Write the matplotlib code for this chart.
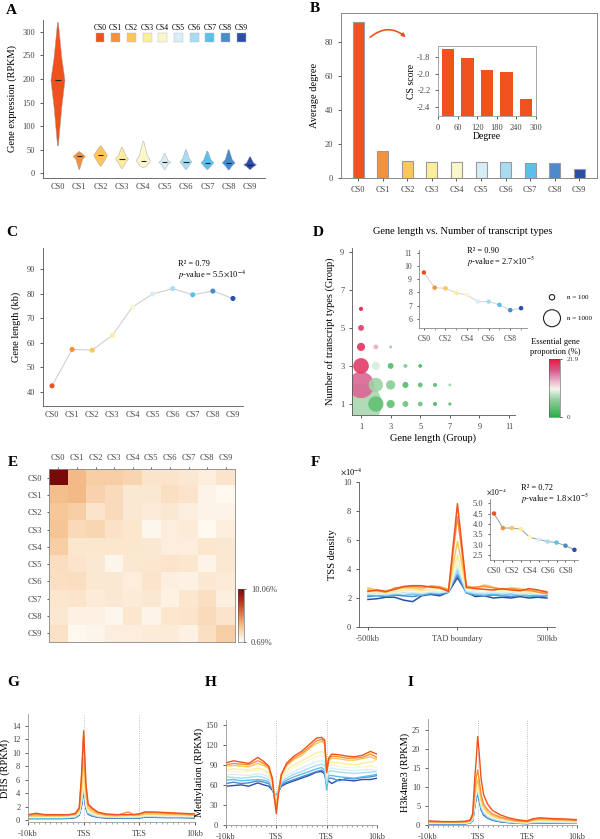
import matplotlib
matplotlib.use('Agg')
import matplotlib.pyplot as plt
from matplotlib.colors import LinearSegmentedColormap, Normalize
from matplotlib.patches import Rectangle, FancyArrowPatch
from matplotlib.cm import ScalarMappable
from matplotlib.ticker import MultipleLocator

W, H = 600, 839

plt.rcParams['font.family'] = ['Liberation Serif', 'DejaVu Serif']
plt.rcParams['mathtext.fontset'] = 'stix'
plt.rcParams['font.size'] = 6
plt.rcParams['axes.linewidth'] = 0.6
plt.rcParams['axes.edgecolor'] = '#555555'
plt.rcParams['xtick.major.size'] = 2
plt.rcParams['ytick.major.size'] = 2
plt.rcParams['xtick.major.width'] = 0.6
plt.rcParams['ytick.major.width'] = 0.6
plt.rcParams['xtick.labelsize'] = 6
plt.rcParams['ytick.labelsize'] = 6
plt.rcParams['xtick.color'] = '#444444'
plt.rcParams['ytick.color'] = '#444444'

stages = ['CS0', 'CS1', 'CS2', 'CS3', 'CS4', 'CS5', 'CS6', 'CS7', 'CS8', 'CS9']
stage_colors = ['#F0521E', '#F6913A', '#FCC65A', '#FCEE9F', '#FBF7CD',
                '#D7EEF8', '#A8DCF3', '#5BC0EC', '#4A8BCC', '#2B4FA8']

# A: violin outlines (RPKM)
a_low = [58, 8, 15, 10, 12, 8, 8, 8, 7, 8]
a_body_lo = [140, 29, 26, 22, 16, 19, 17, 15, 16, 14]
a_median = [197, 36, 38, 30, 27, 23, 24, 22, 22, 18]
a_body_hi = [245, 41, 48, 38, 38, 27, 31, 29, 29, 22]
a_high = [320, 46, 58, 55, 68, 42, 50, 47, 50, 35]
a_halfw = [0.33, 0.28, 0.32, 0.3, 0.33, 0.28, 0.28, 0.3, 0.3, 0.3]

# B: average degree + inset
b_degree = [92, 16, 9.8, 9.5, 9.2, 9.5, 9.5, 8.8, 9.0, 5.5]
b_inset_x = [30, 90, 150, 210, 270]
b_inset_cs = [-1.70, -1.81, -1.96, -1.98, -2.31]

# C: gene length
c_length = [42.5, 57.3, 57.0, 63.0, 74.5, 79.8, 82.0, 79.5, 81.0, 78.0]

# D: bubbles
d_x = [1, 1, 1, 1, 1, 1, 2, 2, 2, 2, 3, 3, 3, 3, 4, 4, 4, 5, 5, 5, 6, 6, 7, 7]
d_y = [1, 2, 3, 4, 5, 6, 1, 2, 3, 4, 1, 2, 3, 4, 1, 2, 3, 1, 2, 3, 1, 2, 1, 2]
d_n = [6000, 2400, 850, 230, 120, 60, 800, 700, 230, 80, 230, 300, 120, 30,
       120, 130, 55, 80, 80, 50, 55, 55, 35, 30]
d_p = [7.5, 17.0, 19.5, 20, 19.5, 21.5, 3.5, 7.0, 9.5, 14, 3.5, 6, 2.5, 6.5,
       4, 2.5, 5.5, 4, 3, 1.5, 1.5, 2.5, 2.5, 7]
d_inset = [9.5, 8.35, 8.3, 7.95, 7.8, 7.3, 7.3, 7.05, 6.65, 6.8]

# E: heatmap (%)
e_matrix = [
    [10.06, 3.8, 3.0, 3.0, 2.7, 2.0, 2.0, 1.8, 1.6, 2.0],
    [3.6, 3.8, 2.8, 2.4, 1.8, 1.8, 2.2, 2.0, 1.3, 1.0],
    [3.3, 3.0, 2.0, 2.4, 1.8, 1.7, 1.8, 1.5, 1.3, 1.3],
    [3.4, 2.5, 2.6, 2.1, 1.9, 1.1, 1.6, 1.7, 1.0, 1.6],
    [3.0, 1.9, 1.9, 1.9, 1.9, 1.8, 1.6, 1.6, 1.9, 1.8],
    [2.3, 2.0, 1.8, 1.2, 1.8, 1.9, 2.0, 1.9, 1.3, 1.8],
    [2.2, 2.3, 1.8, 1.8, 1.6, 2.0, 1.5, 1.4, 1.8, 1.7],
    [1.9, 2.0, 1.7, 1.8, 1.7, 1.8, 1.4, 1.9, 2.2, 1.5],
    [1.8, 1.4, 1.4, 1.1, 1.9, 1.3, 1.9, 2.0, 2.4, 2.0],
    [2.1, 1.0, 1.2, 1.6, 1.6, 1.7, 1.7, 1.4, 2.2, 3.0],
]

# F: TSS density around TAD boundary (x1e-4)
f_x = [-500, -450, -400, -350, -300, -250, -200, -150, -100, -50, 0,
       50, 100, 150, 200, 250, 300, 350, 400, 450, 500]
f_lines = [
    [2.45, 2.55, 2.45, 2.6, 2.8, 2.85, 2.85, 2.75, 2.7, 2.45, 8.5, 2.75, 2.65, 2.6, 2.55, 2.65, 2.55, 2.5, 2.65, 2.55, 2.4],
    [2.55, 2.5, 2.4, 2.7, 2.75, 2.8, 2.75, 2.8, 2.75, 2.55, 7.6, 2.7, 2.75, 2.8, 2.7, 2.6, 2.65, 2.55, 2.55, 2.4, 2.3],
    [2.7, 2.55, 2.5, 2.6, 2.7, 2.7, 2.6, 2.85, 2.8, 2.6, 5.9, 2.85, 2.7, 2.9, 2.75, 2.6, 2.7, 2.65, 2.5, 2.5, 2.45],
    [2.5, 2.45, 2.4, 2.45, 2.55, 2.6, 2.5, 2.6, 2.65, 2.55, 5.0, 2.7, 2.6, 2.6, 2.55, 2.5, 2.6, 2.5, 2.45, 2.4, 2.35],
    [2.4, 2.35, 2.35, 2.4, 2.45, 2.5, 2.4, 2.5, 2.55, 2.5, 4.6, 2.6, 2.5, 2.45, 2.5, 2.45, 2.5, 2.4, 2.4, 2.35, 2.3],
    [2.3, 2.25, 2.3, 2.35, 2.3, 2.4, 2.35, 2.45, 2.4, 2.45, 4.3, 2.5, 2.4, 2.35, 2.4, 2.35, 2.4, 2.3, 2.35, 2.3, 2.25],
    [2.25, 2.3, 2.2, 2.3, 2.35, 2.3, 2.3, 2.4, 2.35, 2.5, 4.0, 2.45, 2.3, 2.3, 2.35, 2.3, 2.3, 2.25, 2.3, 2.25, 2.3],
    [2.2, 2.15, 2.2, 2.25, 2.3, 2.25, 2.2, 2.35, 2.3, 2.4, 3.9, 2.4, 2.25, 2.2, 2.25, 2.2, 2.25, 2.2, 2.15, 2.2, 2.25],
    [2.1, 2.15, 2.1, 2.2, 2.15, 2.1, 2.2, 2.3, 2.25, 2.45, 3.6, 2.35, 2.2, 2.15, 2.2, 2.15, 2.1, 2.2, 2.15, 2.1, 2.15],
    [1.9, 1.95, 2.05, 2.05, 1.85, 1.75, 2.15, 2.25, 2.15, 2.4, 3.4, 2.4, 2.1, 2.15, 2.0, 2.05, 2.0, 2.1, 2.0, 2.05, 2.0],
]
f_inset = [4.5, 3.8, 3.8, 3.75, 3.35, 3.25, 3.15, 3.1, 2.95, 2.75]

# G: DHS profile (TSS = 100, TES = 200)
g_x = [0, 15, 30, 45, 60, 75, 85, 92, 96, 100, 104, 108, 115, 125, 140, 160,
       180, 190, 200, 210, 225, 250, 275, 300]
g_lines = [
    [0.8, 1.0, 0.8, 0.8, 0.8, 0.8, 1.0, 1.8, 6.5, 13.3, 5.5, 2.4, 1.8, 1.2, 0.9, 0.8, 0.8, 0.8, 0.9, 1.2, 1.2, 1.1, 1.0, 0.9],
    [0.7, 0.8, 0.7, 0.7, 0.7, 0.8, 0.9, 1.7, 6.0, 12.6, 5.0, 2.2, 1.6, 1.1, 0.8, 0.7, 1.2, 0.8, 0.9, 1.1, 1.1, 1.0, 0.9, 0.8],
    [0.6, 0.6, 0.6, 0.6, 0.6, 0.7, 0.8, 1.4, 4.5, 9.2, 3.8, 1.8, 1.3, 0.9, 0.7, 0.6, 0.7, 0.7, 0.7, 0.9, 0.9, 0.8, 0.8, 0.7],
    [0.5, 0.5, 0.5, 0.5, 0.5, 0.6, 0.7, 1.2, 3.6, 7.2, 3.0, 1.5, 1.1, 0.8, 0.6, 0.5, 0.6, 0.6, 0.6, 0.8, 0.8, 0.7, 0.7, 0.6],
    [0.45, 0.45, 0.45, 0.45, 0.45, 0.5, 0.6, 1.1, 3.0, 6.2, 2.6, 1.3, 1.0, 0.7, 0.55, 0.5, 0.5, 0.5, 0.55, 0.7, 0.7, 0.65, 0.6, 0.55],
    [0.4, 0.4, 0.4, 0.4, 0.4, 0.45, 0.55, 1.0, 2.8, 5.6, 2.3, 1.2, 0.9, 0.6, 0.5, 0.45, 0.45, 0.45, 0.5, 0.6, 0.6, 0.55, 0.55, 0.5],
    [0.35, 0.35, 0.35, 0.35, 0.35, 0.4, 0.5, 0.9, 2.6, 5.2, 2.1, 1.1, 0.8, 0.55, 0.45, 0.4, 0.4, 0.4, 0.45, 0.55, 0.55, 0.5, 0.5, 0.45],
    [0.3, 0.3, 0.3, 0.3, 0.3, 0.35, 0.45, 0.8, 2.4, 4.9, 2.0, 1.0, 0.7, 0.5, 0.4, 0.35, 0.35, 0.35, 0.4, 0.5, 0.5, 0.45, 0.45, 0.4],
    [0.25, 0.25, 0.25, 0.25, 0.25, 0.3, 0.4, 0.75, 2.2, 4.6, 1.8, 0.9, 0.65, 0.45, 0.35, 0.3, 0.3, 0.3, 0.35, 0.45, 0.45, 0.4, 0.4, 0.35],
    [0.2, 0.2, 0.2, 0.2, 0.2, 0.25, 0.35, 0.7, 2.0, 4.3, 1.7, 0.85, 0.6, 0.4, 0.3, 0.25, 0.25, 0.25, 0.3, 0.4, 0.4, 0.35, 0.35, 0.3],
]

# H: methylation profile
h_x = [0, 15, 30, 45, 63, 75, 85, 92, 96, 100, 104, 110, 120, 135, 150, 165,
       180, 190, 196, 200, 204, 210, 225, 240, 255, 270, 287, 300]
h_lines = [
    [93, 96, 94, 92, 101, 95, 88, 70, 40, 17, 45, 75, 92, 103, 110, 120, 130, 131, 127, 78, 100, 106, 105, 103, 102, 104, 110, 106],
    [90, 92, 91, 90, 96, 92, 86, 68, 42, 24, 48, 76, 90, 100, 107, 116, 126, 128, 124, 80, 98, 103, 102, 100, 100, 101, 106, 101],
    [88, 89, 88, 87, 92, 89, 84, 66, 44, 30, 50, 76, 88, 98, 104, 114, 122, 125, 121, 82, 96, 100, 99, 97, 97, 99, 102, 98],
    [82, 84, 83, 82, 85, 83, 78, 62, 45, 34, 50, 72, 82, 90, 96, 102, 108, 110, 107, 80, 92, 94, 93, 91, 90, 92, 94, 97],
    [80, 80, 79, 80, 82, 80, 76, 61, 46, 36, 50, 70, 78, 86, 92, 97, 102, 104, 101, 76, 88, 90, 88, 86, 86, 87, 88, 86],
    [75, 76, 75, 74, 77, 75, 72, 59, 46, 38, 50, 67, 74, 80, 85, 90, 95, 96, 93, 70, 84, 85, 83, 82, 81, 82, 83, 81],
    [72, 71, 70, 71, 73, 71, 68, 57, 46, 40, 50, 64, 70, 76, 80, 85, 89, 91, 88, 62, 80, 81, 79, 78, 77, 78, 79, 80],
    [67, 68, 66, 67, 68, 67, 65, 55, 46, 42, 50, 62, 67, 72, 76, 80, 84, 86, 82, 52, 74, 74, 72, 71, 70, 72, 74, 76],
    [62, 64, 62, 63, 66, 64, 62, 54, 46, 43, 50, 60, 64, 68, 72, 76, 80, 82, 79, 60, 70, 70, 66, 70, 69, 71, 72, 74],
    [58, 59, 60, 58, 63, 60, 58, 52, 46, 44, 50, 58, 62, 66, 70, 74, 79, 80, 76, 62, 66, 62, 68, 67, 66, 68, 68, 70],
]

# I: H3k4me3 profile
i_x = [0, 15, 30, 45, 60, 75, 85, 90, 94, 97, 100, 103, 107, 112, 120, 130,
       145, 160, 175, 190, 200, 210, 225, 250, 275, 300]
i_lines = [
    [1.1, 1.0, 0.9, 0.9, 0.9, 1.0, 1.3, 3.0, 12.0, 17.0, 23.3, 19.0, 12.0, 8.0, 5.5, 3.8, 2.7, 2.0, 1.5, 1.2, 1.1, 1.6, 1.9, 1.7, 1.6, 1.4],
    [0.9, 0.85, 0.8, 0.8, 0.8, 0.85, 1.1, 2.4, 9.0, 12.5, 14.5, 12.0, 8.0, 5.5, 4.0, 2.9, 2.1, 1.6, 1.2, 1.0, 0.9, 1.4, 1.7, 1.5, 1.4, 1.2],
    [0.8, 0.75, 0.7, 0.7, 0.7, 0.75, 1.0, 2.1, 7.5, 10.5, 12.0, 10.0, 6.8, 4.8, 3.4, 2.5, 1.8, 1.4, 1.0, 0.9, 0.8, 1.2, 1.4, 1.3, 1.2, 1.1],
    [0.7, 0.65, 0.6, 0.6, 0.6, 0.65, 0.9, 1.9, 6.8, 9.5, 11.0, 9.2, 6.2, 4.3, 3.0, 2.2, 1.6, 1.2, 0.9, 0.8, 0.7, 1.0, 1.2, 1.1, 1.0, 0.95],
    [0.6, 0.55, 0.5, 0.5, 0.5, 0.55, 0.8, 1.7, 6.3, 9.0, 10.3, 8.6, 5.7, 3.9, 2.7, 2.0, 1.4, 1.1, 0.8, 0.7, 0.6, 0.9, 1.0, 0.95, 0.9, 0.85],
    [0.5, 0.5, 0.45, 0.45, 0.45, 0.5, 0.7, 1.5, 5.8, 8.3, 9.5, 8.0, 5.2, 3.5, 2.4, 1.8, 1.25, 0.95, 0.7, 0.6, 0.55, 0.75, 0.85, 0.8, 0.75, 0.7],
    [0.45, 0.45, 0.4, 0.4, 0.4, 0.45, 0.65, 1.4, 5.4, 7.9, 9.0, 7.5, 4.8, 3.2, 2.2, 1.6, 1.1, 0.85, 0.65, 0.55, 0.5, 0.65, 0.75, 0.7, 0.65, 0.6],
    [0.4, 0.4, 0.35, 0.35, 0.35, 0.4, 0.6, 1.3, 5.0, 7.5, 8.5, 7.1, 4.5, 3.0, 2.0, 1.45, 1.0, 0.75, 0.6, 0.5, 0.45, 0.6, 0.65, 0.6, 0.6, 0.55],
    [0.35, 0.35, 0.3, 0.3, 0.3, 0.35, 0.55, 1.2, 4.8, 7.2, 8.2, 6.8, 4.2, 2.8, 1.9, 1.35, 0.9, 0.7, 0.55, 0.45, 0.4, 0.55, 0.6, 0.55, 0.55, 0.5],
    [0.3, 0.3, 0.25, 0.25, 0.25, 0.3, 0.5, 1.1, 4.6, 7.0, 8.0, 6.6, 4.0, 2.6, 1.8, 1.25, 0.85, 0.65, 0.5, 0.4, 0.35, 0.5, 0.55, 0.5, 0.5, 0.45],
]

fig = plt.figure(figsize=(W / 100, H / 100), dpi=100)


def px_axes(x0, y0, x1, y1):
    # pixel box (top-left origin) -> figure axes
    return fig.add_axes([x0 / W, 1 - y1 / H, (x1 - x0) / W, (y1 - y0) / H])


def ptext(x, y, s, **kw):
    kw.setdefault('va', 'center')
    return fig.text(x / W, 1 - y / H, s, **kw)


def stats_text(x, y, r2, pval):
    # two-line R^2 / p-value note
    ptext(x, y, 'R² = ' + r2, fontsize=6)
    ptext(x, y + 11, '$p$-value = ' + pval, fontsize=6)


def open_spines(ax, color='#555555'):
    ax.spines['top'].set_visible(False)
    ax.spines['right'].set_visible(False)
    ax.spines['left'].set_color(color)
    ax.spines['bottom'].set_color(color)


def panel_label(x, y, s):
    ptext(x, y, s, fontsize=11, fontweight='bold', ha='left')


# ---- A ----
ax = px_axes(43, 20, 265, 178)
for i in range(10):
    ys = [a_low[i], a_body_lo[i], a_median[i], a_body_hi[i], a_high[i]]
    w = a_halfw[i]
    ws = [0.02, 0.55 * w, w, 0.55 * w, 0.02]
    xs = [i - v for v in ws] + [i + v for v in ws[::-1]]
    ax.fill(xs, ys + ys[::-1], color=stage_colors[i], ec='#a0a0a0', lw=0.3)
    ax.hlines(a_median[i], i - 0.13, i + 0.13, color='#222222', lw=0.8)
ax.set_xlim(-0.7, 9.7)
ax.set_ylim(-10, 325)
ax.set_xticks(range(10))
ax.set_xticklabels(stages)
ax.tick_params(axis='x', length=0)
ax.set_yticks([0, 50, 100, 150, 200, 250, 300])
ax.set_ylabel('Gene expression (RPKM)', fontsize=7.5)
open_spines(ax)
for i in range(10):
    cx = (100 + 15.7 * i - 43) / 222
    ax.add_patch(Rectangle((cx - 0.02, 0.861), 0.04, 0.057, transform=ax.transAxes,
                           color=stage_colors[i], ec='#bbbbbb', lw=0.3, clip_on=False))
    ax.text(cx, 0.925, stages[i], transform=ax.transAxes, ha='center', va='bottom', fontsize=5.5)
panel_label(6, 11, 'A')

# ---- B ----
ax = px_axes(341, 13, 597, 178)
ax.bar(range(10), b_degree, width=0.45, color=stage_colors, edgecolor='#9a9a9a', lw=0.8)
ax.set_xlim(-0.7, 9.72)
ax.set_ylim(0, 97)
ax.set_xticks(range(10))
ax.set_xticklabels(stages)
ax.set_yticks([0, 20, 40, 60, 80])
ax.set_ylabel('Average degree', fontsize=7.5)
for sp in ax.spines.values():
    sp.set_color('#777777')
axi = px_axes(438, 46, 536, 116)
axi.bar(b_inset_x, [v + 2.51 for v in b_inset_cs], bottom=-2.51, width=38, color=stage_colors[0])
axi.set_xlim(0, 300)
axi.set_ylim(-2.51, -1.668)
axi.set_xticks([0, 60, 120, 180, 240, 300])
axi.set_yticks([-1.8, -2.0, -2.2, -2.4])
axi.set_yticklabels(['-1.8', '-2.0', '-2.2', '-2.4'])
axi.set_xlabel('Degree', fontsize=7, labelpad=0)
axi.set_ylabel('CS score', fontsize=7, labelpad=1)
for sp in axi.spines.values():
    sp.set_color('#999999')
arrow = FancyArrowPatch((368 / W, 1 - 39 / H), (408 / W, 1 - 39 / H), transform=fig.transFigure,
                        connectionstyle='arc3,rad=-0.45', arrowstyle='-|>', mutation_scale=5,
                        color=stage_colors[0], lw=1.2)
fig.patches.append(arrow)
panel_label(310, 9, 'B')

# ---- C ----
ax = px_axes(43, 248, 243, 406)
ax.plot(range(10), c_length, color='#d0d0d0', lw=0.8, zorder=1)
ax.scatter(range(10), c_length, s=7, color=stage_colors, zorder=2)
ax.set_xlim(-0.45, 9.5)
ax.set_ylim(34.3, 98.5)
ax.set_xticks(range(10))
ax.set_xticklabels(stages)
ax.tick_params(axis='x', length=0)
ax.set_yticks([40, 50, 60, 70, 80, 90])
ax.set_ylabel('Gene length (kb)', fontsize=7.5)
open_spines(ax)
stats_text(178, 264, '0.79', '5.5$\\times$10$^{-4}$')
panel_label(6, 232, 'C')

# ---- D ----
d_cmap = LinearSegmentedColormap.from_list('ess', [(0, '#2EAF48'), (0.3, '#93D09E'), (0.48, '#F2F5EE'),
                                                   (0.65, '#E8A7C1'), (0.8, '#D95A8C'), (1, '#E8173C')])
d_norm = Normalize(0, 21.9)
ax = px_axes(352, 248, 515, 415)
order = sorted(range(len(d_n)), key=lambda k: -d_n[k])
ax.scatter([d_x[k] for k in order], [d_y[k] for k in order], s=[0.15 * d_n[k] for k in order],
           c=[d_p[k] for k in order], cmap=d_cmap, norm=d_norm, alpha=0.9, lw=0)
ax.set_xlim(0.39, 11.4)
ax.set_ylim(0.42, 9.2)
ax.set_xticks([1, 3, 5, 7, 9, 11])
ax.set_yticks([1, 3, 5, 7, 9])
ax.set_xlabel('Gene length (Group)', fontsize=7.5, labelpad=2)
ax.set_ylabel('Number of transcript types (Group)', fontsize=7.5)
open_spines(ax)
ptext(463, 231, 'Gene length vs. Number of transcript types', ha='center', fontsize=7.5)
axi = px_axes(419, 250, 527, 328)
axi.plot(range(10), d_inset, color='#d8d8d8', lw=0.8, zorder=1)
axi.scatter(range(10), d_inset, s=5, color=stage_colors, zorder=2)
axi.set_xlim(-0.45, 9.55)
axi.set_ylim(5.3, 11.2)
axi.set_xticks(range(10), minor=True)
axi.set_xticks([0, 2, 4, 6, 8])
axi.set_xticklabels(['CS0', 'CS2', 'CS4', 'CS6', 'CS8'], fontsize=5.5)
axi.set_yticks([6, 7, 8, 9, 10, 11])
axi.tick_params(labelsize=5.5, length=1.5)
axi.tick_params(which='minor', length=1.5, color='#888888')
axi.patch.set_alpha(0)
open_spines(axi, '#888888')
stats_text(467, 251, '0.90', '2.7$\\times$10$^{-5}$')
axl = px_axes(540, 288, 600, 330)
axl.axis('off')
axl.set_xlim(0, 1)
axl.set_ylim(0, 1)
axl.scatter([0.2, 0.2], [0.78, 0.28], s=[0.15 * 100, 0.15 * 1000], facecolor='white', edgecolor='#222222', lw=0.8)
axl.text(0.45, 0.78, 'n = 100', va='center', fontsize=5)
axl.text(0.45, 0.28, 'n = 1000', va='center', fontsize=5)
ptext(555, 347, 'Essential gene\nproportion (%)', ha='center', fontsize=6, linespacing=1.2)
cax = px_axes(549, 359, 560, 417)
cb = fig.colorbar(ScalarMappable(norm=d_norm, cmap=d_cmap), cax=cax, ticks=[0, 21.9])
cb.ax.set_yticklabels(['0', '21.9'], fontsize=5)
cb.ax.tick_params(length=1.5)
cb.outline.set_linewidth(0.4)
panel_label(313, 232, 'D')

# ---- E ----
e_cmap = LinearSegmentedColormap.from_list('heat', [(0, '#FFFDF8'), (0.08, '#FDF1E2'), (0.15, '#FBE2C6'),
                                                    (0.3, '#F6C391'), (0.55, '#E0733F'), (0.8, '#B02A1E'),
                                                    (1, '#7A0A0A')])
ax = px_axes(49, 469, 235, 642)
ax.imshow(e_matrix, cmap=e_cmap, vmin=0.69, vmax=10.06, aspect='auto')
ax.xaxis.tick_top()
ax.set_xticks(range(10))
ax.set_xticklabels(stages)
ax.set_yticks(range(10))
ax.set_yticklabels(stages)
ax.tick_params(length=1.5)
for sp in ax.spines.values():
    sp.set_color('#888888')
cax = px_axes(238, 589, 244, 642)
cb = fig.colorbar(ScalarMappable(norm=Normalize(0.69, 10.06), cmap=e_cmap), cax=cax, ticks=[0.69, 10.06])
cb.ax.set_yticklabels(['0.69%', '10.06%'], fontsize=6)
cb.ax.tick_params(length=1.5)
cb.outline.set_linewidth(0.4)
panel_label(8, 463, 'E')

# ---- F ----
ax = px_axes(359, 482, 555, 627)
for i in range(9, -1, -1):
    ax.plot(f_x, f_lines[i], color=stage_colors[i], lw=1.1)
ax.set_xlim(-550, 545)
ax.set_ylim(0, 10)
ax.set_xticks([-500, 0, 500])
ax.set_xticklabels(['-500kb', 'TAD boundary', '500kb'])
ax.set_yticks([0, 2, 4, 6, 8, 10])
ax.set_ylabel('TSS density', fontsize=7.5)
open_spines(ax)
ptext(340, 472, '$\\times$10$^{-4}$', fontsize=6)
axi = px_axes(490, 499, 578, 560)
axi.plot(range(10), f_inset, color='#a8a8a8', lw=0.8, zorder=1)
axi.scatter(range(10), f_inset, s=5, color=stage_colors, zorder=2)
axi.set_xlim(-0.45, 9.4)
axi.set_ylim(2.26, 5.2)
axi.set_xticks(range(10), minor=True)
axi.set_xticks([0, 2, 4, 6, 8])
axi.set_xticklabels(['CS0', 'CS2', 'CS4', 'CS6', 'CS8'], fontsize=6)
axi.set_yticks([2.5, 3.0, 3.5, 4.0, 4.5, 5.0])
axi.set_yticklabels(['2.5', '3.0', '3.5', '4.0', '4.5', '5.0'])
axi.tick_params(labelsize=6, length=1.5)
axi.tick_params(which='minor', length=1.5)
axi.patch.set_alpha(0)
open_spines(axi, '#888888')
ptext(486, 492, '$\\times$10$^{-4}$', fontsize=5.5)
stats_text(521, 488, '0.72', '1.8$\\times$10$^{-5}$')
panel_label(311, 463, 'F')


# ---- G, H, I ----
def profile(box, xs, lines, ylim, yticks, ylabel):
    ax = px_axes(*box)
    for i in range(9, -1, -1):
        ax.plot(xs, lines[i], color=stage_colors[i], lw=1.0)
    ax.axvline(100, color='#aaaaaa', ls=':', lw=0.6, zorder=0)
    ax.axvline(200, color='#aaaaaa', ls=':', lw=0.6, zorder=0)
    ax.set_xlim(0, 300)
    ax.set_ylim(*ylim)
    ax.set_xticks([0, 100, 200, 300])
    ax.set_xticklabels(['-10kb', 'TSS', 'TES', '10kb'])
    ax.xaxis.set_minor_locator(MultipleLocator(10))
    ax.tick_params(which='minor', length=1.5, color='#999999')
    ax.set_yticks(yticks)
    ax.set_ylabel(ylabel, fontsize=7.5, labelpad=1)
    open_spines(ax, '#999999')
    return ax


profile((28, 714, 195, 822), g_x, g_lines, (-0.3, 15.8), [0, 2, 4, 6, 8, 10, 12, 14], 'DHS (RPKM)')
profile((226, 720, 377, 825), h_x, h_lines, (0, 157), [0, 30, 60, 90, 120, 150], 'Methylation (RPKM)')
profile((428, 719, 577, 825), i_x, i_lines, (0, 27.9), [0, 5, 10, 15, 20, 25], 'H3k4me3 (RPKM)')
panel_label(7, 682, 'G')
panel_label(205, 682, 'H')
panel_label(408, 682, 'I')

fig.savefig('out.png', dpi=100)
